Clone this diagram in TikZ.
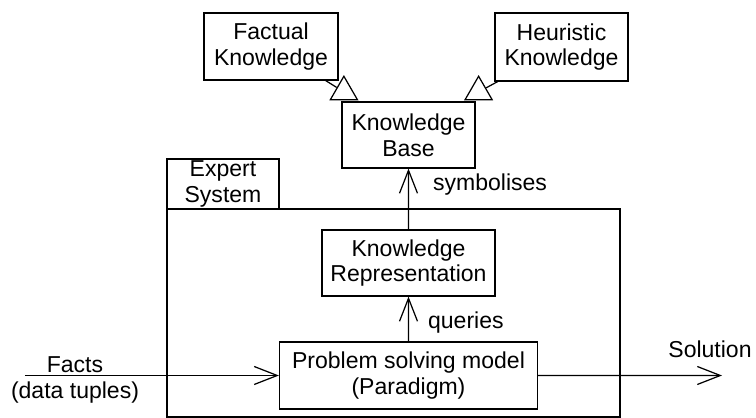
\documentclass[tikz,border=0pt]{standalone}
\usepackage{fontspec}
\setmainfont{Liberation Sans}
\usetikzlibrary{arrows.meta,shapes.geometric,calc}

\tikzset{
  box/.style={draw, line width=0.7pt, align=center, inner sep=0pt,
    font=\fontsize{13.1}{14.6}\selectfont},
  tri/.style={draw, fill=white, line width=0.7pt, isosceles triangle,
    isosceles triangle apex angle=60, shape border rotate=90,
    inner sep=0pt, minimum size=0.47cm},
  lbl/.style={inner sep=0pt, font=\fontsize{13.1}{14.6}\selectfont},
  arr/.style={line width=0.7pt, -{Straight Barb[length=0.46cm, width=0.36cm]}}
}

\begin{document}
\begin{tikzpicture}[scale=0.2]
\useasboundingbox (0,0) rectangle (75.6,-41.8);
% expert system frame
\node [box, minimum width=9.06cm, minimum height=4.16cm] (es) at (39.35,-31.3) {};
\node [box, minimum width=2.24cm, minimum height=1.0cm] (tab) at (22.3,-18.4) {Expert\\System};
% knowledge boxes
\node [box, minimum width=2.68cm, minimum height=1.34cm] (fact) at (27.1,-4.65) {Factual\\Knowledge};
\node [box, minimum width=2.66cm, minimum height=1.36cm] (heur) at (56.15,-4.7) {Heuristic\\Knowledge};
\node [box, minimum width=2.66cm, minimum height=1.32cm] (kb) at (40.85,-13.5) {Knowledge\\Base};
\node [box, minimum width=3.46cm, minimum height=1.32cm] (kr) at (40.85,-26.3) {Knowledge\\Representation};
\node [box, minimum width=5.16cm, minimum height=1.34cm] (psm) at (40.85,-37.55) {Problem solving model\\(Paradigm)};
% generalisation triangles
\node [tri, anchor=lower side] (ftri) at ($(kb.north west)+(0.25,0.1)$) {};
\node [tri, anchor=lower side] (htri) at ($(kb.north east)+(0.3,0.1)$) {};
\draw [line width=0.7pt] (fact) -- (ftri);
\draw [line width=0.7pt] (heur) -- (htri);
% inner arrows
\draw [arr] (kr) -- node [lbl, right, pos=0.74, xshift=0.48cm] {symbolises} (kb);
\draw [arr] (psm) -- node [lbl, right, pos=0.43, xshift=0.38cm] {queries} (kr);
% input and output
\coordinate (in) at (2.5,-37.55);
\coordinate (out) at (72.2,-37.55);
\draw [arr] (in) -- (psm);
\draw [arr] (psm) -- (out);
\node [lbl, anchor=base] (facts) at (7.5,-37.2) {Facts};
\node [lbl, anchor=base] (tuples) at (7.5,-39.8) {(data tuples)};
\node [lbl, anchor=base] (sol) at (71.0,-35.7) {Solution};
\end{tikzpicture}
\end{document}
